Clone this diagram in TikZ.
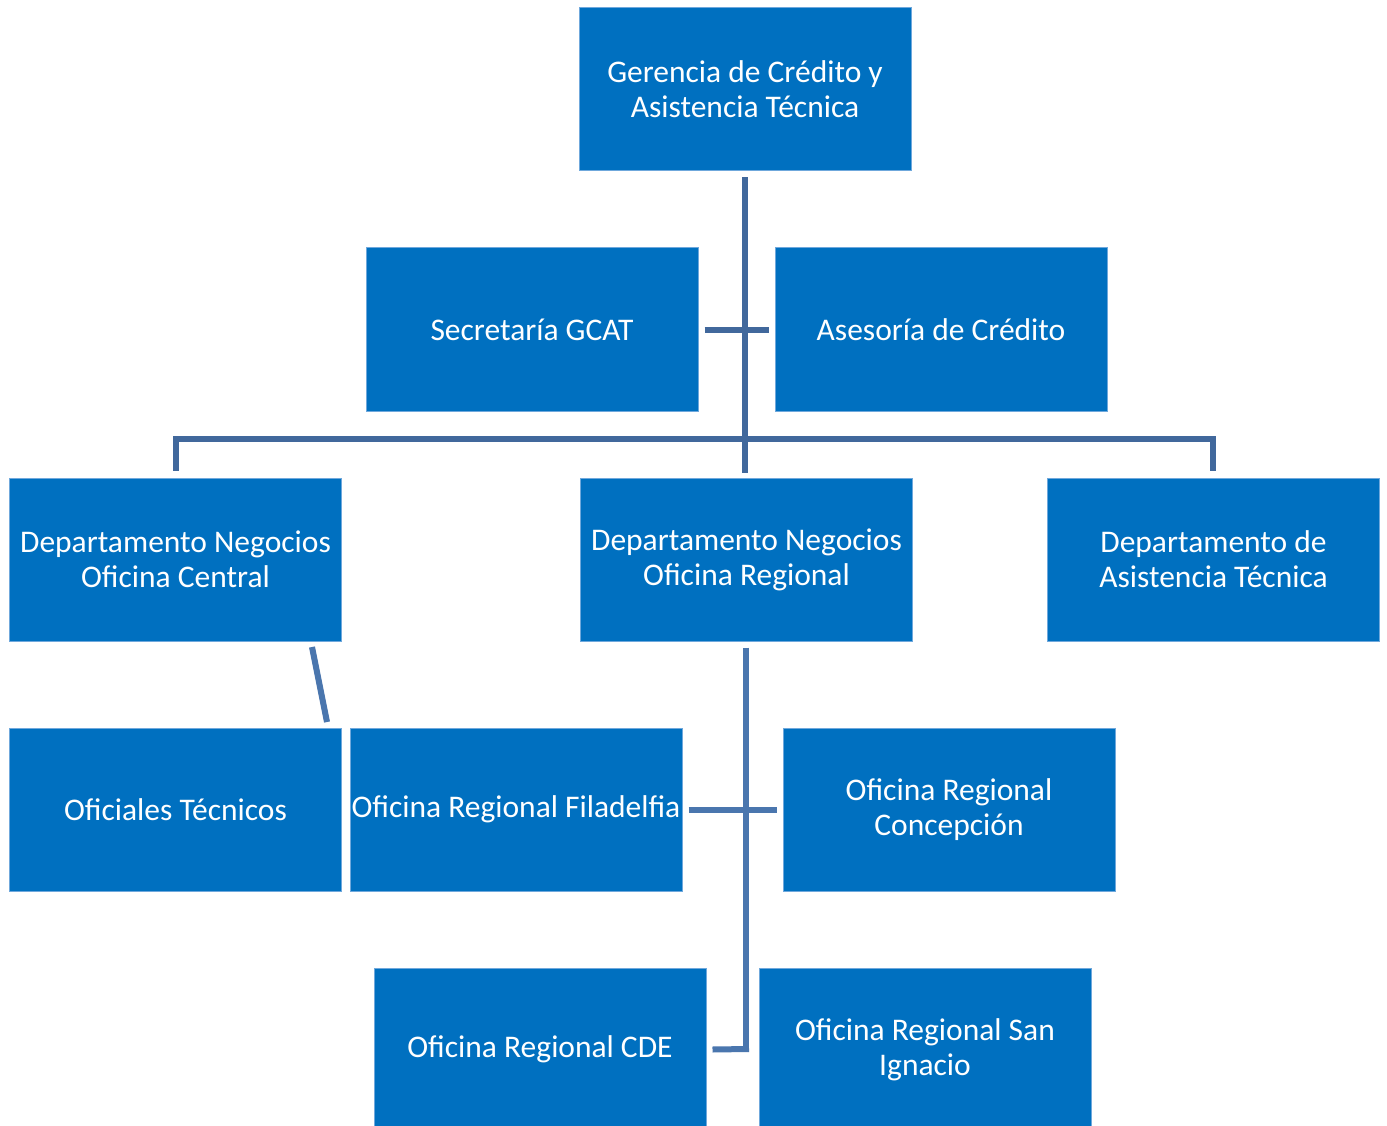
\documentclass[tikz,border=0pt]{standalone}
\usepackage{fontspec}
\setmainfont{Carlito}
\usetikzlibrary{calc}
\definecolor{boxblue}{HTML}{0070C0}
\definecolor{boxedge}{HTML}{6FA8DC}
\definecolor{lineA}{HTML}{41689C}
\definecolor{lineB}{HTML}{4A76AE}
\begin{document}
\begin{tikzpicture}[x=1pt,y=-1pt,
  orgbox/.style={draw=boxedge, line width=1pt, fill=boxblue, text=white,
    minimum width=332pt, minimum height=163pt, inner sep=0pt, align=center,
    font=\fontsize{31.5}{35}\selectfont},
  linkA/.style={draw=lineA, line width=6pt, line join=miter},
  linkB/.style={draw=lineB, line width=6pt}]
\fill[white] (0,0) rectangle (1387,1126);
\useasboundingbox (0,0) rectangle (1387,1126);
\clip (0,0) rectangle (1387,1126);

\node[orgbox] (g)   at (745,89.5)   {Gerencia de Crédito y\\Asistencia Técnica};
\node[orgbox] (sec) at (532,329.5)  {Secretaría GCAT};
\node[orgbox] (ase) at (941,329.5)  {Asesoría de Crédito};
\node[orgbox] (doc) at (175.5,559.5) {Departamento Negocios\\Oficina Central};
\node[orgbox] (dor) at (746.5,559.5) {Departamento Negocios\\Oficina Regional};
\node[orgbox] (dat) at (1213.5,559.5) {Departamento de\\Asistencia Técnica};
\node[orgbox] (ofi) at (175.5,809.5) {Oficiales Técnicos};
\node[orgbox] (fil) at (516,809.5)  {Oficina Regional Filadelfia};
\node[orgbox] (con) at (949,809.5)  {Oficina Regional\\Concepción};
\node[orgbox] (cde) at (540,1049.5) {Oficina Regional CDE};
\node[orgbox] (sig) at (925,1049.5) {Oficina Regional San\\Ignacio};

% upper connectors
\coordinate (gtop) at ($(g.south)+(0,6)$);
\coordinate (gbot) at ($(dor.north)+(-1.5,-5)$);
\coordinate (secR) at ($(sec.east)+(6,0)$);
\coordinate (aseL) at ($(ase.west)+(-6,0)$);
\coordinate (docT) at ($(doc.north)+(0.5,-7)$);
\coordinate (datT) at ($(dat.north)+(-0.5,-7)$);
\path[linkA] (gtop) -- (gbot);
\path[linkA] (secR) -- (aseL);
\path[linkA] (docT) -- ($(docT|-0,439)$) -- ($(datT|-0,439)$) -- (datT);

% lower connectors
\coordinate (docB) at (312,647);
\coordinate (ofiT) at (327,722);
\path[linkB] (docB) -- (ofiT);
\coordinate (dorB) at ($(dor.south)+(-0.5,6)$);
\coordinate (vend) at (746,1052);
\path[linkB] (dorB) -- (vend);
\coordinate (filR) at ($(fil.east)+(6,0)$);
\coordinate (conL) at ($(con.west)+(-6,0)$);
\path[linkB] (filR) -- (conL);
\coordinate (cdeR) at ($(cde.east)+(6,0)$);
\path[linkB] (cdeR) -- (749,1049);
\end{tikzpicture}
\end{document}
